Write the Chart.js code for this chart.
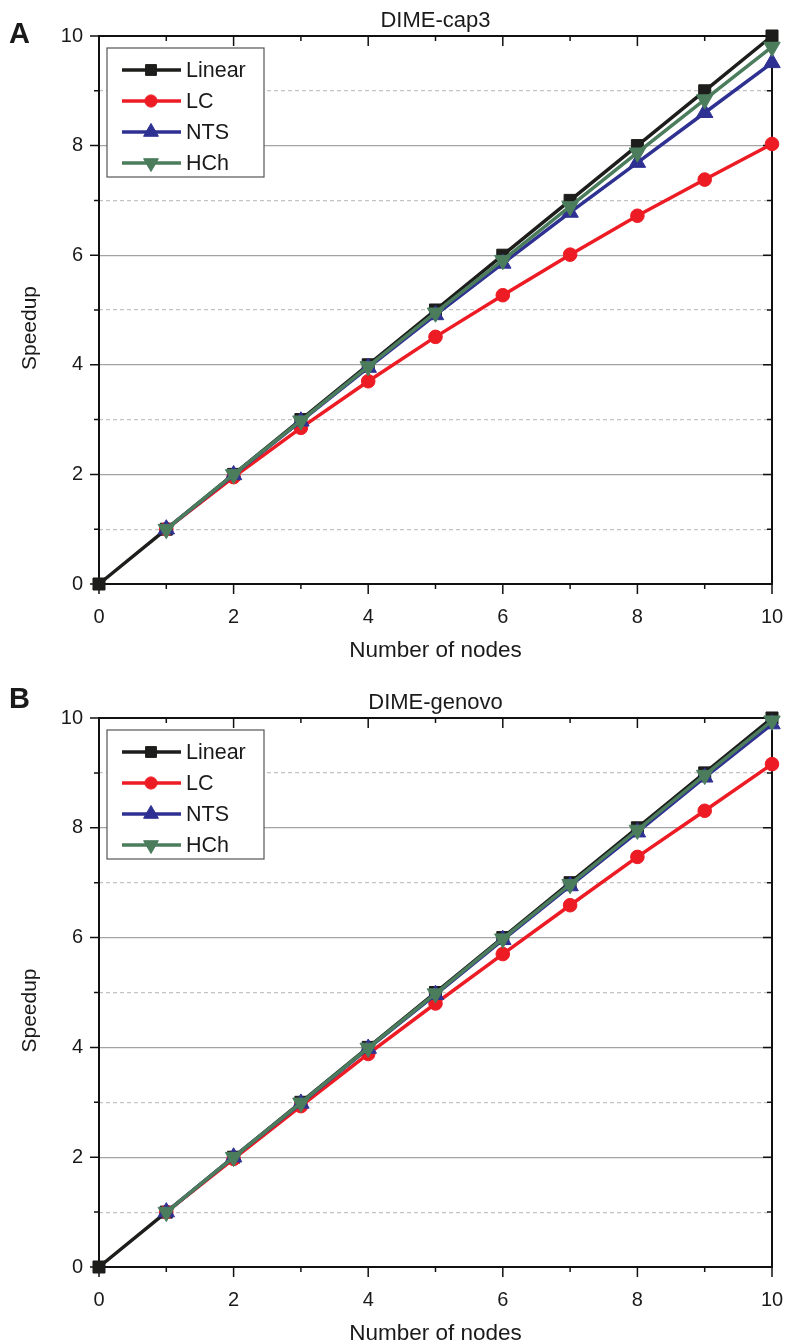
<!DOCTYPE html>
<html>
<head>
<meta charset="utf-8">
<script src="https://cdn.jsdelivr.net/npm/chart.js@4.4.0/dist/chart.umd.min.js"></script>
<style>
  html, body { margin: 0; padding: 0; background: #fff; }
  .panel { position: absolute; left: 0; width: 785px; height: 670px; }
</style>
</head>
<body>
<div class="panel" style="top:0"><canvas id="chartA" width="785" height="670"></canvas></div>
<div class="panel" style="top:670px"><canvas id="chartB" width="785" height="670"></canvas></div>
<script>
// x values (number of nodes) and axis tick labels
const nodes = [0, 1, 2, 3, 4, 5, 6, 7, 8, 9, 10];
const xTickLabels = [0, 2, 4, 6, 8, 10];
const yTickLabels = [0, 2, 4, 6, 8, 10];
const seriesNames = ['Linear', 'LC', 'NTS', 'HCh'];

// A: DIME-cap3
const linearA = [0, 1, 2, 3, 4, 5, 6, 7, 8, 9, 10];
const lcA  = [null, 1.0, 1.95, 2.85, 3.70, 4.51, 5.27, 6.01, 6.72, 7.38, 8.03];
const ntsA = [null, 1.0, 1.99, 2.97, 3.95, 4.91, 5.85, 6.78, 7.69, 8.60, 9.51];
const hchA = [null, 1.0, 2.00, 2.98, 3.97, 4.95, 5.91, 6.89, 7.87, 8.84, 9.80];

// B: DIME-genovo
const linearB = [0, 1, 2, 3, 4, 5, 6, 7, 8, 9, 10];
const lcB  = [null, 1.0, 1.97, 2.93, 3.88, 4.80, 5.70, 6.59, 7.47, 8.31, 9.16];
const ntsB = [null, 1.0, 2.00, 2.98, 3.98, 4.96, 5.96, 6.94, 7.92, 8.92, 9.89];
const hchB = [null, 1.0, 2.00, 2.99, 3.99, 4.98, 5.98, 6.97, 7.96, 8.96, 9.95];

const FONT = "'Liberation Sans', Arial, Helvetica, sans-serif";
Chart.defaults.font.family = FONT;

// look of each series
const styles = [
    { color: '#1d1d1b', pointStyle: 'rect', radius: 8.5, rotation: 0 },
    { color: '#ed1c24', pointStyle: 'circle', radius: 6.8, rotation: 0 },
    { color: '#2e3192', pointStyle: 'triangle', radius: 9.5, rotation: 0 },
    { color: '#4b7d5d', pointStyle: 'triangle', radius: 9.5, rotation: 180 }
];

// frame, ticks, titles and the boxed legend
const decoPlugin = {
    id: 'deco',
    beforeDatasetsDraw(chart) {
        const { ctx, chartArea: a, scales: { x, y } } = chart;
        ctx.save();
        ctx.strokeStyle = '#111';
        ctx.lineWidth = 1.5;
        ctx.beginPath();
        x.ticks.forEach(t => {
            const len = xTickLabels.includes(t.value) ? 10 : 5;
            const px = x.getPixelForValue(t.value);
            ctx.moveTo(px, a.bottom); ctx.lineTo(px, a.bottom + len);
            ctx.moveTo(px, a.top); ctx.lineTo(px, a.top + len);
        });
        y.ticks.forEach(t => {
            const len = yTickLabels.includes(t.value) ? 9 : 5;
            const py = y.getPixelForValue(t.value);
            ctx.moveTo(a.left, py); ctx.lineTo(a.left - len, py);
            ctx.moveTo(a.right, py); ctx.lineTo(a.right - len, py);
        });
        ctx.stroke();
        ctx.lineWidth = 2;
        ctx.strokeRect(a.left, a.top, a.right - a.left, a.bottom - a.top);
        ctx.restore();
    },
    afterDraw(chart, args, opts) {
        const { ctx, chartArea: a } = chart;
        ctx.save();
        ctx.fillStyle = '#1a1a1a';

        // panel letter + title
        ctx.font = 'bold 29px ' + FONT;
        ctx.textAlign = 'left';
        ctx.textBaseline = 'alphabetic';
        ctx.fillText(opts.letter, 9, opts.letterY);
        ctx.font = '22px ' + FONT;
        ctx.textAlign = 'center';
        ctx.fillText(opts.title, (a.left + a.right) / 2, a.top - 9);

        // axis titles
        ctx.font = '22.5px ' + FONT;
        ctx.fillText('Number of nodes', (a.left + a.right) / 2, a.bottom + 73);
        ctx.font = '21px ' + FONT;
        ctx.save();
        ctx.translate(36, (a.top + a.bottom) / 2 + 18);
        ctx.rotate(-Math.PI / 2);
        ctx.fillText('Speedup', 0, 0);
        ctx.restore();

        // legend
        const bx = a.left + 8, by = a.top + 12, bw = 157, bh = 129;
        ctx.fillStyle = '#fff';
        ctx.fillRect(bx, by, bw, bh);
        ctx.strokeStyle = '#555';
        ctx.lineWidth = 1.2;
        ctx.strokeRect(bx, by, bw, bh);
        chart.data.datasets.forEach((ds, i) => {
            const st = styles[i];
            const ry = by + 22 + i * 31;
            ctx.strokeStyle = st.color;
            ctx.fillStyle = st.color;
            ctx.lineWidth = 3.5;
            ctx.beginPath();
            ctx.moveTo(bx + 15, ry);
            ctx.lineTo(bx + 74, ry);
            ctx.stroke();
            ctx.lineWidth = 1;
            Chart.helpers.drawPoint(ctx, {
                pointStyle: st.pointStyle, radius: st.radius * 0.9,
                rotation: st.rotation, borderWidth: 1
            }, bx + 44, ry);
            ctx.fillStyle = '#1a1a1a';
            ctx.font = '21.5px ' + FONT;
            ctx.textAlign = 'left';
            ctx.textBaseline = 'middle';
            ctx.fillText(ds.label, bx + 79, ry + 1);
        });
        ctx.restore();
    }
};

function makeDataset(i, values) {
    const st = styles[i];
    return {
        label: seriesNames[i],
        data: nodes.map((n, k) => ({ x: n, y: values[k] })),
        borderColor: st.color,
        backgroundColor: st.color,
        borderWidth: 3.5,
        pointStyle: st.pointStyle,
        pointRadius: st.radius,
        pointRotation: st.rotation,
        pointBorderWidth: 1,
        pointBackgroundColor: st.color,
        pointBorderColor: st.color,
        tension: 0,
        clip: false,
        order: 3 - i
    };
}

function makeChart(id, series, deco, padTop, padBottom) {
    return new Chart(document.getElementById(id), {
        type: 'line',
        data: { datasets: series.map((s, i) => makeDataset(i, s)) },
        options: {
            responsive: false,
            animation: false,
            layout: { padding: { left: 0, right: 13, top: padTop, bottom: padBottom } },
            plugins: {
                legend: { display: false },
                tooltip: { enabled: false },
                deco: deco
            },
            scales: {
                x: {
                    type: 'linear', min: 0, max: 10,
                    // fixed box so the plot area lines up with the figure
                    afterFit: s => { s.height = 40; s.paddingLeft = 0; s.paddingRight = 11; },
                    ticks: {
                        stepSize: 1, padding: 13, color: '#1a1a1a',
                        font: { size: 20 },
                        maxRotation: 0, autoSkip: false,
                        callback: v => xTickLabels.includes(v) ? String(v) : ''
                    },
                    grid: { display: false },
                    border: { display: false }
                },
                y: {
                    type: 'linear', min: 0, max: 10,
                    afterFit: s => { s.width = 99; },
                    ticks: {
                        stepSize: 1, padding: 16, color: '#1a1a1a',
                        font: { size: 20 }, autoSkip: false,
                        callback: v => yTickLabels.includes(v) ? String(v) : ''
                    },
                    grid: {
                        drawTicks: false,
                        lineWidth: 1.2,
                        color: c => {
                            const v = c.tick ? c.tick.value : 0;
                            if (v === 0 || v === 10) return 'rgba(0,0,0,0)';
                            return v % 2 === 0 ? '#a3a3a3' : '#c4c4c4';
                        }
                    },
                    border: {
                        display: false,
                        dash: c => (c.tick && c.tick.value % 2 === 1) ? [4, 3] : []
                    }
                }
            }
        },
        plugins: [decoPlugin]
    });
}

makeChart('chartA', [linearA, lcA, ntsA, hchA],
    { letter: 'A', letterY: 43, title: 'DIME-cap3' }, 36, 46);
makeChart('chartB', [linearB, lcB, ntsB, hchB],
    { letter: 'B', letterY: 38, title: 'DIME-genovo' }, 48, 33);
</script>
</body>
</html>
